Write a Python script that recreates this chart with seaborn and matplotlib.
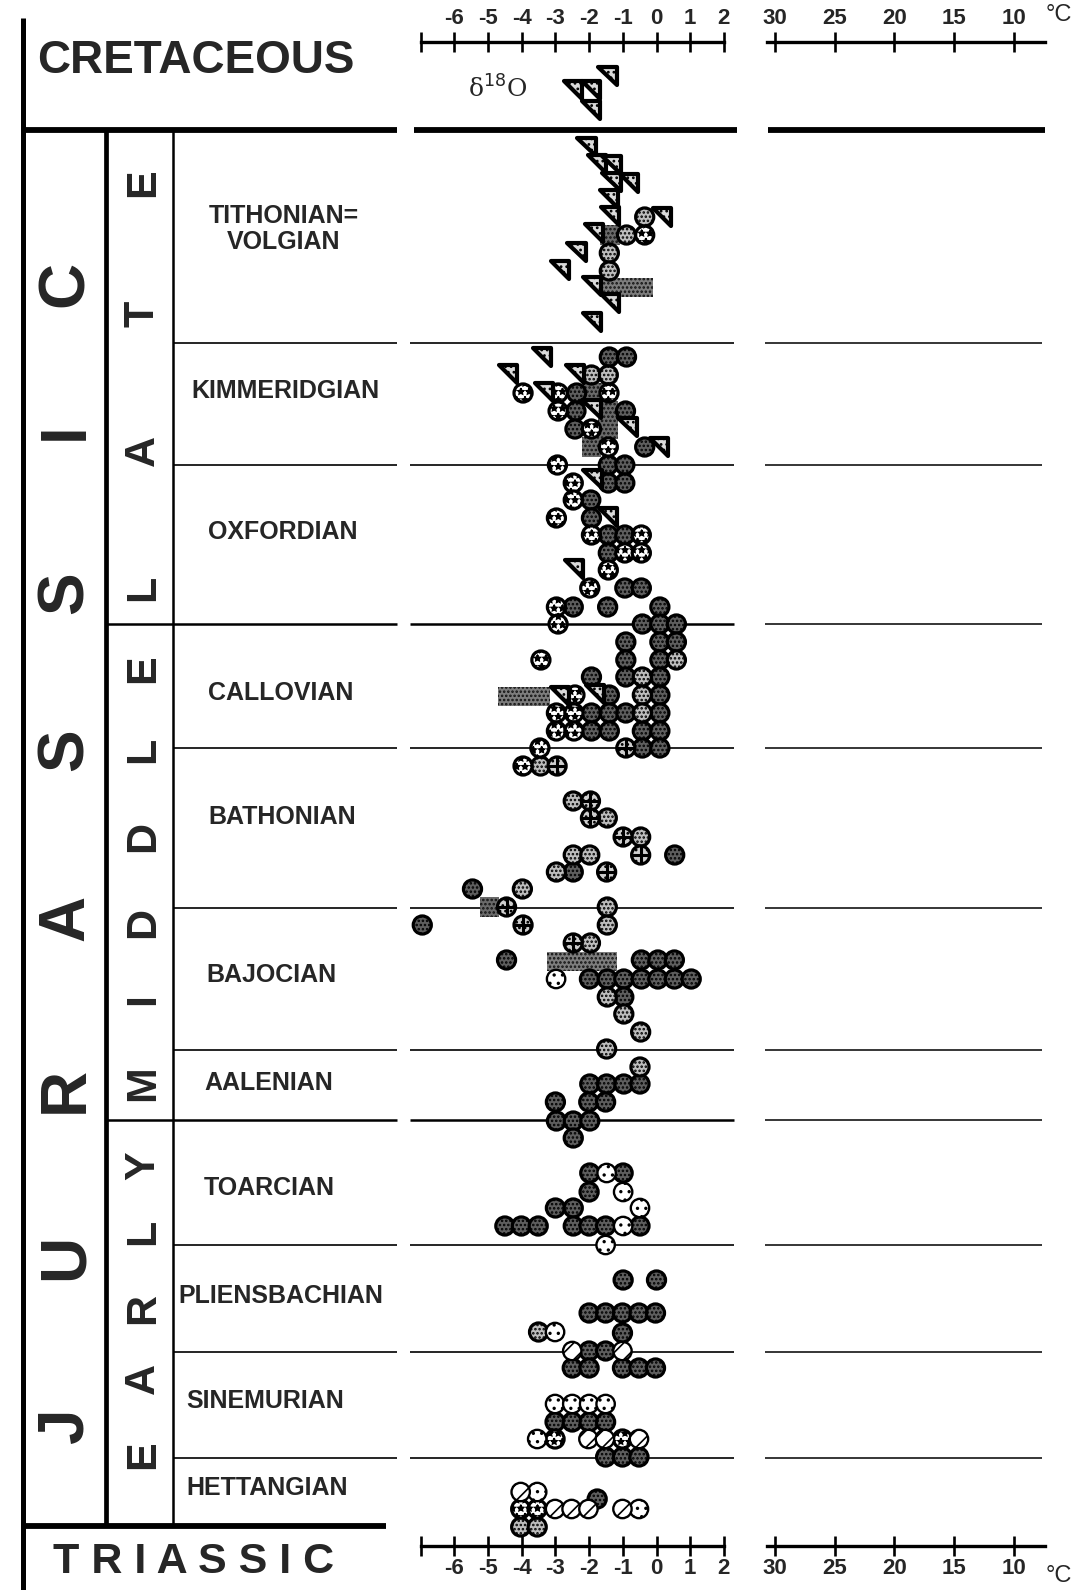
import matplotlib
matplotlib.use('Agg')
import matplotlib.pyplot as plt
import seaborn as sns
import pandas as pd
from matplotlib.path import Path

sns.set_style('white')
plt.rcParams['font.family'] = ['Liberation Sans', 'DejaVu Sans']
plt.rcParams['hatch.linewidth'] = 1.2

# stratigraphic levels are measured in rows of the original plate (0 = top)
stage_names = ['TITHONIAN=\nVOLGIAN', 'KIMMERIDGIAN', 'OXFORDIAN', 'CALLOVIAN', 'BATHONIAN',
               'BAJOCIAN', 'AALENIAN', 'TOARCIAN', 'PLIENSBACHIAN', 'SINEMURIAN', 'HETTANGIAN']
stage_mid = [229, 391, 532, 693, 817, 975, 1083, 1188, 1296, 1401, 1488]
stage_bounds = [343, 465, 748, 908, 1050, 1245, 1352, 1458]
series_bounds = [624, 1120]
system_bounds = [130, 1526]

series_letters = {'LATE': [588, 451, 314, 183],
                  'MIDDLE': [1083, 999, 923, 837, 750, 669],
                  'EARLY': [1455, 1379, 1308, 1232, 1166]}
system_letters = ['J', 'U', 'R', 'A', 'S', 'S', 'I', 'C']
system_letter_y = [1425, 1257, 1090, 918, 750, 593, 431, 284]

d18o_ticks = [-7, -6, -5, -4, -3, -2, -1, 0, 1, 2]
d18o_labels = ['', '-6', '-5', '-4', '-3', '-2', '-1', '0', '1', '2']
temp_ticks = [30, 25, 20, 15, 10]

# belemnite-type triangles (d18O, level)
triangles = [(-2.47, 90), (-1.94, 90), (-1.94, 110), (-1.45, 76),
             (-2.08, 147), (-1.76, 164), (-1.34, 165), (-1.34, 182), (-0.82, 183), (-1.41, 199),
             (-1.38, 216), (-1.86, 233), (-2.37, 252), (-2.87, 270), (-1.91, 286), (-1.38, 303),
             (-1.91, 322), (0.17, 217),
             (-3.39, 357), (-4.40, 374), (-2.42, 374), (-3.34, 392), (-1.93, 409), (-0.86, 427),
             (0.08, 447), (-1.90, 479), (-1.43, 517), (-2.44, 569), (-2.87, 696), (-1.83, 694)]

dark = [(-1.40, 357), (-0.89, 357), (-2.37, 393), (-2.39, 411), (-0.92, 411), (-2.42, 429), (-0.35, 447),
        (-1.43, 465), (-0.94, 465), (-1.43, 483), (-0.94, 483), (-1.95, 500), (-1.93, 518), (-1.43, 535),
        (-0.94, 535), (-1.43, 553), (-0.94, 588), (-0.45, 588), (-2.47, 607), (-1.45, 607), (0.10, 607),
        (-0.42, 624), (0.10, 624), (0.59, 624), (-0.91, 642), (0.10, 642), (0.59, 642), (-0.91, 660),
        (0.10, 660), (-1.93, 677), (-0.91, 677), (0.10, 677), (-1.40, 695), (0.10, 695), (-1.93, 713),
        (-1.40, 713), (-0.91, 713), (0.10, 713), (-1.93, 731), (-1.40, 731), (-0.42, 731), (0.10, 731),
        (-0.42, 748), (0.10, 748),
        (0.54, 855), (-2.47, 872), (-5.46, 889),
        (-6.95, 925), (-4.45, 960), (-0.45, 960), (0.04, 960), (0.53, 960), (-1.99, 979), (-1.46, 979),
        (-0.97, 979), (-0.45, 979), (0.04, 979), (0.53, 979), (1.03, 979), (-0.97, 997),
        (-1.98, 1084), (-1.48, 1084), (-0.97, 1084), (-0.49, 1084), (-3.00, 1102), (-2.01, 1102),
        (-1.51, 1102), (-2.97, 1121), (-2.47, 1121), (-1.98, 1121), (-2.47, 1138),
        (-1.98, 1173), (-0.99, 1173), (-2.00, 1192), (-3.00, 1208), (-2.47, 1208), (-4.50, 1226),
        (-4.01, 1226), (-3.51, 1226), (-2.47, 1226), (-2.00, 1226), (-1.51, 1226), (-0.49, 1226),
        (-0.99, 1280), (0.00, 1280), (-2.00, 1313), (-1.51, 1313), (-1.01, 1313), (-0.52, 1313),
        (-0.03, 1313), (-1.01, 1333), (-2.00, 1351), (-1.51, 1351), (-2.50, 1368), (-2.00, 1368),
        (-1.01, 1368), (-0.52, 1368), (-0.03, 1368),
        (-3.01, 1422), (-2.50, 1422), (-2.00, 1422), (-1.51, 1422), (-1.51, 1457), (-1.01, 1457),
        (-0.52, 1457), (-1.76, 1499)]

light = [(-0.35, 217), (-0.89, 235), (-1.40, 253), (-1.40, 271), (-1.93, 375), (-1.43, 375),
         (0.59, 660), (-0.42, 677), (-0.42, 695), (-0.42, 713), (-3.44, 766),
         (-2.47, 801), (-1.46, 818), (-0.47, 837), (-2.47, 855), (-1.98, 855), (-2.97, 872), (-3.98, 889),
         (-1.46, 907), (-1.46, 925), (-1.96, 943), (-1.46, 997), (-0.97, 1014), (-0.47, 1032),
         (-1.48, 1049), (-0.49, 1067), (-3.50, 1332), (-4.03, 1527), (-3.54, 1527)]

pebble = [(-0.35, 235), (-3.96, 393), (-2.92, 393), (-1.41, 393), (-2.92, 411), (-1.93, 429), (-1.43, 447),
          (-2.94, 465), (-2.47, 483), (-2.47, 500), (-2.97, 518), (-1.93, 535), (-0.45, 535), (-0.94, 553),
          (-0.45, 553), (-1.43, 570), (-1.98, 588), (-2.97, 607),
          (-2.92, 624), (-3.43, 660), (-2.42, 695), (-2.97, 713), (-2.45, 713), (-2.97, 731), (-2.45, 731),
          (-3.46, 748), (-3.96, 766), (-3.01, 1439), (-1.01, 1439), (-4.03, 1509), (-3.54, 1509)]

cross = [(-0.91, 748), (-2.95, 766), (-1.96, 801), (-1.96, 818), (-0.99, 837), (-0.47, 855), (-1.48, 872),
         (-4.45, 907), (-3.96, 925), (-2.47, 943)]

open_dot = [(-2.98, 979), (-1.48, 1173), (-0.99, 1192), (-0.49, 1208), (-0.99, 1226), (-1.51, 1245),
            (-3.01, 1332), (-3.01, 1404), (-2.50, 1404), (-2.00, 1404), (-1.51, 1404), (-3.54, 1439),
            (-3.54, 1492), (-0.52, 1509)]

striped = [(-2.50, 1351), (-1.01, 1351), (-2.02, 1439), (-1.53, 1439), (-0.52, 1439),
           (-4.03, 1492), (-3.01, 1509), (-2.52, 1509), (-2.02, 1509), (-1.01, 1509)]

squares = [(-1.38, 235), (-1.88, 393), (-1.43, 411), (-1.43, 429), (-1.93, 447), (-4.96, 907)]

# ranges drawn as stippled bars: (low, high, level)
ranges = [(-1.68, -0.10, 287), (-4.70, -3.17, 696), (-3.24, -1.17, 961)]

fig = plt.figure(figsize=(10.81, 15.90), dpi=100)

# ---- stratigraphic column ----
bg = fig.add_axes([0, 0, 1, 1])
bg.set_xlim(0, 1081)
bg.set_ylim(1590, 0)
bg.axis('off')
bg.vlines(23, 18, 1590, color='k', lw=3.6)
bg.hlines(system_bounds[0], 21, 397, color='k', lw=4.2)
bg.hlines(system_bounds[1], 21, 386, color='k', lw=4.2)
bg.vlines(106, system_bounds[0], system_bounds[1], color='k', lw=3.4)
bg.vlines(173, system_bounds[0], system_bounds[1], color='k', lw=1.8)
bg.hlines(series_bounds, 106, 397, color='k', lw=1.8)
bg.hlines(stage_bounds, 173, 397, color='k', lw=1.2)

bg.text(196, 61, 'CRETACEOUS', fontsize=33, fontweight='bold', ha='center', va='center')
bg.text(194, 1562, 'T R I A S S I C', fontsize=31, fontweight='bold', ha='center', va='center')
for letter, y in zip(system_letters, system_letter_y):
    bg.text(66, y, letter, fontsize=46, fontweight='bold', rotation=90, ha='center', va='center')
for word, ys in series_letters.items():
    for letter, y in zip(word, ys):
        bg.text(143, y, letter, fontsize=31, fontweight='bold', rotation=90, ha='center', va='center')
stage_x = [284, 285, 283, 281, 282, 271, 269, 269, 281, 265, 267]
for name, x, y in zip(stage_names, stage_x, stage_mid):
    bg.text(x, y, name, fontsize=18, fontweight='bold', ha='center', va='center', linespacing=1.15)

# ---- oxygen isotope panel ----
ax = fig.add_axes([400 / 1081, 0, 345 / 1081, 1])
ax.set_facecolor('none')
ax.set_xlim(-7.611, 2.626)
ax.set_ylim(1590, 0)
for s in ['left', 'right']:
    ax.spines[s].set_visible(False)
ax.spines['top'].set_position(('data', 42))
ax.spines['bottom'].set_position(('data', 1546))
for s in ['top', 'bottom']:
    ax.spines[s].set_bounds(-7, 2)
    ax.spines[s].set_linewidth(2.4)
    ax.spines[s].set_color('k')
ax.set_xticks(d18o_ticks)
ax.set_xticklabels(d18o_labels)
ax.set_yticks([])
ax.tick_params(axis='x', top=True, bottom=True, labeltop=True, labelbottom=True,
               direction='inout', length=14, width=1.9, pad=2, labelsize=16, color='k')
for lab in ax.get_xticklabels(which='both'):
    lab.set_fontweight('bold')

ax.hlines(system_bounds[0], -7.2, 2.4, color='k', lw=4.2)
ax.hlines(series_bounds, -7.3, 2.3, color='k', lw=1.8)
ax.hlines(stage_bounds, -7.3, 2.3, color='k', lw=1.2)
ax.text(-4.7, 89, 'δ$^{18}$O', fontsize=18, ha='center', va='center',
        family=['DejaVu Serif', 'Liberation Sans'])

for lo, hi, lev in ranges:
    ax.barh(lev, hi - lo, left=lo, height=19, color='#7d7d7d', hatch='....',
            edgecolor='#111111', linewidth=0, zorder=2)

def dots(points, **kw):
    df = pd.DataFrame(points, columns=['d18O', 'level'])
    sns.scatterplot(data=df, x='d18O', y='level', ax=ax, legend=False, zorder=3, **kw)

tri_marker = Path([(-1, 1), (1, 1), (1, -1), (-1, 1)],
                  [Path.MOVETO, Path.LINETO, Path.LINETO, Path.CLOSEPOLY])

dots(squares, marker='s', s=200, color='#6a6a6a', edgecolor='#111111', linewidth=0, hatch='....')
dots(dark, marker='o', s=170, color='#5e5e5e', edgecolor='k', linewidth=2.3, hatch='....')
dots(light, marker='o', s=170, color='#bdbdbd', edgecolor='k', linewidth=2.3, hatch='....')
dots(pebble, marker='o', s=170, color='white', edgecolor='k', linewidth=2.3, hatch='**')
dots(cross, marker='o', s=170, color='#cfcfcf', edgecolor='k', linewidth=2.3, hatch='...')
dots(cross, marker='+', s=170, color='k', linewidth=2.2)
dots(open_dot, marker='o', s=175, color='white', edgecolor='k', linewidth=1.7, hatch='..')
dots(striped, marker='o', s=175, color='white', edgecolor='k', linewidth=1.7, hatch='//')
dots(triangles, marker=tri_marker, s=175, color='#dadada', edgecolor='k', linewidth=3.0, hatch='...')
ax.set_xlabel('')
ax.set_ylabel('')

# ---- temperature panel ----
at = fig.add_axes([745 / 1081, 0, 330 / 1081, 1])
at.set_facecolor('none')
at.set_xlim(32.51, 4.845)
at.set_ylim(1590, 0)
for s in ['left', 'right']:
    at.spines[s].set_visible(False)
at.spines['top'].set_position(('data', 42))
at.spines['bottom'].set_position(('data', 1546))
for s in ['top', 'bottom']:
    at.spines[s].set_bounds(30.7, 7.4)
    at.spines[s].set_linewidth(2.4)
    at.spines[s].set_color('k')
at.set_xticks(temp_ticks)
at.set_xticklabels([str(t) for t in temp_ticks])
at.set_yticks([])
at.tick_params(axis='x', top=True, bottom=True, labeltop=True, labelbottom=True,
               direction='inout', length=14, width=1.9, pad=2, labelsize=16, color='k')
for lab in at.get_xticklabels(which='both'):
    lab.set_fontweight('bold')
at.hlines(system_bounds[0], 30.6, 7.4, color='k', lw=4.2)
at.hlines(series_bounds + stage_bounds, 30.8, 7.6, color='k', lw=1.1)
at.text(6.2, 15, '°C', fontsize=17, ha='center', va='center')
at.text(6.2, 1576, '°C', fontsize=17, ha='center', va='center')

fig.savefig('out.png', dpi=100, facecolor='white')
